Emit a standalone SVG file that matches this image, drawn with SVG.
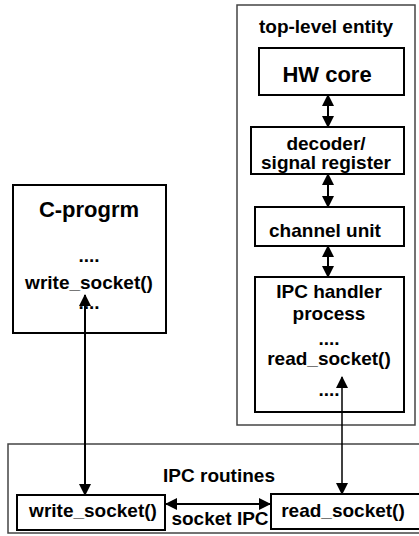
<svg xmlns="http://www.w3.org/2000/svg" width="419" height="536" viewBox="0 0 419 536">
  <defs>
    <marker id="head" viewBox="0 0 12 12" refX="11" refY="6" markerWidth="12" markerHeight="12" markerUnits="userSpaceOnUse" orient="auto-start-reverse">
      <path d="M0,0 L12,6 L0,12 Z" fill="#000"/>
    </marker>
  </defs>
  <style>
    .frame { fill: none; stroke: #444; stroke-width: 1.5; }
    .box { fill: #fff; stroke: #000; stroke-width: 2; }
    text { font-family: "Liberation Sans", Arial, sans-serif; font-weight: bold; font-size: 19px; fill: #000; text-anchor: middle; }
    .big { font-size: 22px; }
    .link { fill: none; stroke: #000; stroke-width: 2; }
    .thin { stroke-width: 1.5; }
  </style>
  <rect width="419" height="536" fill="#fff"/>

  <!-- enclosing frames -->
  <g id="top-level-entity">
    <rect class="frame" x="237" y="5" width="178" height="420"/>
    <text x="326" y="33">top-level entity</text>
  </g>
  <g id="ipc-routines">
    <rect class="frame" x="8" y="444" width="420" height="89"/>
    <text x="219" y="482">IPC routines</text>
  </g>

  <!-- nodes -->
  <g id="hw-core">
    <rect class="box" x="259" y="48" width="145" height="47"/>
    <text class="big" x="327" y="82">HW core</text>
  </g>
  <g id="decoder">
    <rect class="box" x="251" y="127" width="153" height="47"/>
    <text x="326" y="150">decoder/</text>
    <text x="326" y="169">signal register</text>
  </g>
  <g id="channel-unit">
    <rect class="box" x="255" y="207" width="149" height="39"/>
    <text x="325" y="237">channel unit</text>
  </g>
  <g id="ipc-handler">
    <rect class="box" x="255" y="277" width="149" height="135"/>
    <text x="329" y="298">IPC handler</text>
    <text x="329" y="320">process</text>
    <text x="329" y="345">....</text>
    <text x="329" y="365">read_socket()</text>
    <text x="329" y="396">....</text>
  </g>
  <g id="c-program">
    <rect class="box" x="13" y="185" width="153" height="148"/>
    <text class="big" x="89" y="217">C-progrm</text>
    <text x="89" y="262">....</text>
    <text x="89" y="289">write_socket()</text>
    <text x="89" y="309">....</text>
  </g>
  <g id="write-socket">
    <rect class="box" x="17" y="495" width="148" height="35"/>
    <text x="93" y="517">write_socket()</text>
  </g>
  <g id="read-socket">
    <rect class="box" x="271" y="494" width="160" height="35"/>
    <text x="343" y="517">read_socket()</text>
  </g>

  <!-- connectors -->
  <g id="connectors">
    <line class="link" x1="328" y1="95" x2="328" y2="127" marker-start="url(#head)" marker-end="url(#head)"/>
    <line class="link" x1="328" y1="174" x2="328" y2="207" marker-start="url(#head)" marker-end="url(#head)"/>
    <line class="link" x1="328" y1="246" x2="328" y2="277" marker-start="url(#head)" marker-end="url(#head)"/>
    <line class="link" x1="85" y1="295" x2="85" y2="495" marker-start="url(#head)" marker-end="url(#head)"/>
    <line class="link thin" x1="342" y1="377" x2="342" y2="494" marker-start="url(#head)" marker-end="url(#head)"/>
    <line class="link" x1="166" y1="504" x2="270" y2="504" marker-start="url(#head)" marker-end="url(#head)"/>
    <text x="220" y="525">socket IPC</text>
  </g>
</svg>
